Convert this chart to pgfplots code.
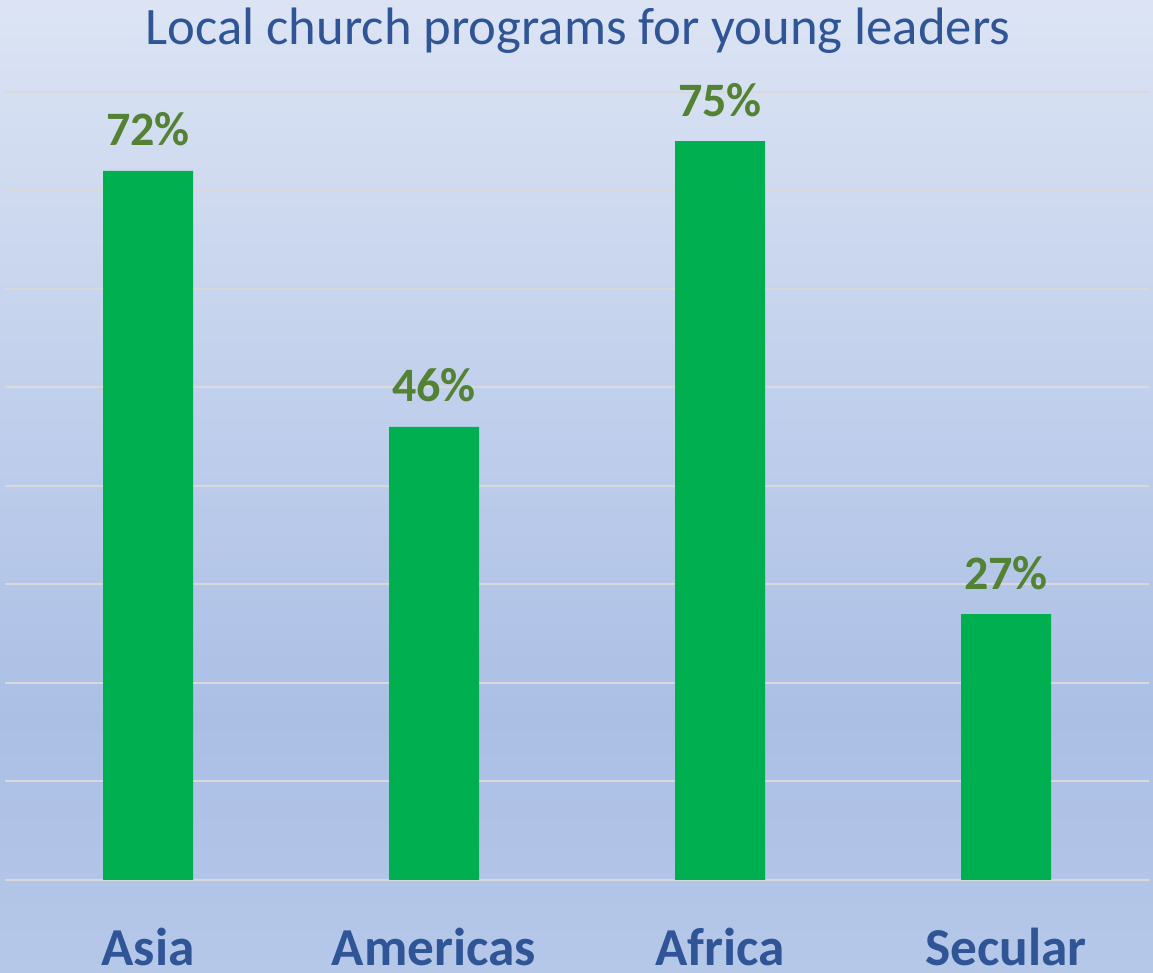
\documentclass[border=0pt]{standalone}
\usepackage{pgfplots}
\pgfplotsset{compat=1.18}
\usepackage{fontspec}
\setmainfont{Carlito}
\definecolor{titleblue}{HTML}{2F5597}
\definecolor{valgreen}{HTML}{548235}
\definecolor{bargreen}{HTML}{00B050}
\definecolor{gridgray}{HTML}{D9D9D9}
\definecolor{bgtop}{HTML}{DCE4F4}
\definecolor{bgmid}{HTML}{ABBFE5}
\definecolor{bgbot}{HTML}{B6C8E8}
\pgfdeclareverticalshading{bgshade}{100bp}{color(0bp)=(bgbot); color(25bp)=(bgbot); color(38bp)=(bgmid); color(75bp)=(bgtop); color(100bp)=(bgtop)}
\begin{document}
\begin{tikzpicture}
\useasboundingbox (0,0) rectangle (864.75pt,729.75pt);
\shade[shading=bgshade] (0,0) rectangle (864.75pt,729.75pt);
\node[anchor=base, text=titleblue, inner sep=0, font=\fontsize{39.5}{42}\selectfont] at (433.5pt,696pt) {Local church programs for young leaders};
\begin{axis}[
  at={(3.75pt,69.75pt)}, anchor=south west,
  scale only axis, width=858pt, height=591pt,
  xmin=-0.5, xmax=3.5, ymin=0, ymax=80,
  ytick={0,10,...,80}, yticklabels={},
  ymajorgrids, grid style={draw=gridgray, line width=1.5pt},
  axis line style={draw=none}, tick style={draw=none},
  xtick=data, xticklabels={Asia,Americas,Africa,Secular},
  xticklabel style={anchor=base, inner sep=0, text depth=0pt, yshift=-60pt, text=titleblue, font=\bfseries\fontsize{40}{42}\selectfont},
  ybar, bar width=67.5pt,
  /pgf/number format/assume math mode=true,
  nodes near coords={\pgfmathprintnumber{\pgfplotspointmeta}\%},
  every node near coord/.append style={anchor=base, inner sep=0, yshift=18.75pt, text=valgreen, font=\bfseries\fontsize{36}{38}\selectfont},
  clip=false,
]
\addplot[fill=bargreen, draw=none] coordinates {(0,72) (1,46) (2,75) (3,27)};
\end{axis}
\end{tikzpicture}
\end{document}
